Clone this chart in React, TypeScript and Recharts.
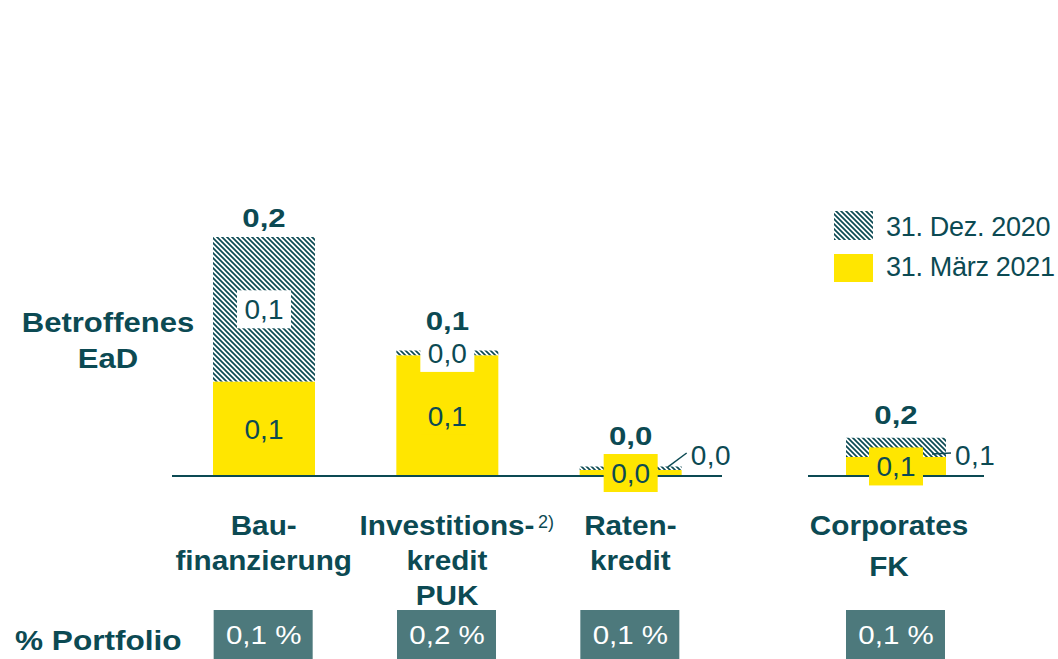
import React from "react";
import { BarChart, Bar, XAxis, YAxis, LabelList } from "recharts";

const TEAL = "#0c4a53";
const YELLOW = "#ffe600";
const BOX = "#4d797c";
const FONT = "Arial, 'Liberation Sans', Helvetica, sans-serif";

// Privatkunden-Gruppe (gemeinsame Achse)
const categories = ["Bau-|finanzierung", "Investitions-|kredit|PUK", "Raten-|kredit"];
const categoryNotes = ["", "2)", ""];
const dez2020 = [0.2, 0.105, 0.008];
const maerz2021 = [0.079, 0.101, 0.005];
const totalLabels = ["0,2", "0,1", "0,0"];
const dezLabels = ["0,1", "0,0", "0,0"];
const dezOutside = [false, false, true];
const maerzLabels = ["0,1", "0,1", "0,0"];
const portfolio = ["0,1 %", "0,2 %", "0,1 %"];

// Corporates (eigene Achse)
const corpCategories = ["Corporates|FK"];
const corpNotes = [""];
const corpDez2020 = [0.032];
const corpMaerz2021 = [0.016];
const corpTotalLabels = ["0,2"];
const corpDezLabels = ["0,1"];
const corpDezOutside = [true];
const corpMaerzLabels = ["0,1"];
const corpPortfolio = ["0,1 %"];

type Row = {
  name: string;
  note: string;
  portfolio: string;
  maerz: number;
  diff: number;
  total: string;
  dezIn: string;
  dezOut: string;
  maerzLabel: string;
};

function buildRows(
  cats: string[],
  notes: string[],
  dez: number[],
  maerz: number[],
  totals: string[],
  dezL: string[],
  outside: boolean[],
  maerzL: string[],
  pf: string[]
): Row[] {
  return cats.map((name, i) => ({
    name,
    note: notes[i],
    portfolio: pf[i],
    maerz: maerz[i],
    diff: dez[i] - maerz[i],
    total: totals[i],
    dezIn: outside[i] ? "" : dezL[i],
    dezOut: outside[i] ? dezL[i] : "",
    maerzLabel: maerzL[i],
  }));
}

const rows = buildRows(categories, categoryNotes, dez2020, maerz2021, totalLabels, dezLabels, dezOutside, maerzLabels, portfolio);
const corpRows = buildRows(corpCategories, corpNotes, corpDez2020, corpMaerz2021, corpTotalLabels, corpDezLabels, corpDezOutside, corpMaerzLabels, corpPortfolio);

// horizontal gestreckter Text wie im Original
const SText = (props: any) => {
  const { x, y, sx = 1, anchor = "middle", size, bold, fill = TEAL, spacing = 0, children } = props;
  return (
    <text
      transform={`translate(${x},${y}) scale(${sx},1)`}
      x={0}
      y={0}
      textAnchor={anchor}
      fill={fill}
      fontFamily={FONT}
      fontWeight={bold ? "bold" : "normal"}
      fontSize={size}
      letterSpacing={spacing}
    >
      {children}
    </text>
  );
};

const CategoryTick = (props: any) => {
  const { x, y, payload, data, lineGap, dx } = props;
  const row: Row | undefined = data.find((r: Row) => r.name === payload.value);
  const lines = String(payload.value).split("|");
  return (
    <g>
      {lines.map((l, i) => (
        <SText key={i} x={x + dx} y={y + 57 + i * lineGap} sx={1.1} size={27} bold>
          {l}
        </SText>
      ))}
      {row && row.note ? (
        <text x={x + 91} y={y + 50} fill={TEAL} fontFamily={FONT} fontSize={18}>
          {row.note}
        </text>
      ) : null}
      {row ? (
        <g>
          <rect x={x - 50} y={y + 132} width={99} height={52} fill={BOX} />
          <SText x={x} y={y + 166} sx={1.18} size={25} fill="#ffffff">
            {row.portfolio}
          </SText>
        </g>
      ) : null}
    </g>
  );
};

const renderTotal = (p: any) => {
  if (!p.value) return null;
  const cx = Number(p.x) + Number(p.width) / 2;
  const top = Number(p.y);
  const mid = top + Number(p.height) / 2;
  return (
    <SText x={cx} y={Math.min(top - 10, mid - 23)} sx={1.2} size={26} bold>
      {p.value}
    </SText>
  );
};

const boxedLabel = (bg: string) => (p: any) => {
  if (!p.value) return null;
  const cx = Number(p.x) + Number(p.width) / 2;
  const cy = Number(p.y) + Number(p.height) / 2;
  return (
    <g>
      <rect x={cx - 27} y={cy - 19} width={54} height={38} fill={bg} />
      <text x={cx} y={cy + 10} textAnchor="middle" fill={TEAL} fontFamily={FONT} fontSize={28}>
        {p.value}
      </text>
    </g>
  );
};

const renderOutside = (p: any) => {
  if (!p.value) return null;
  const right = Number(p.x) + Number(p.width);
  const top = Number(p.y);
  const base = Number(p.y) + Number(p.height);
  return (
    <g>
      <line x1={right - 14} y1={top - 3} x2={right + 5} y2={base - 23} stroke={TEAL} strokeWidth={1.5} />
      <text x={right + 9} y={base - 11} fill={TEAL} fontFamily={FONT} fontSize={28} letterSpacing={0.5}>
        {p.value}
      </text>
    </g>
  );
};

const HatchDefs = ({ id }: { id: string }) => (
  <defs>
    <pattern id={id} patternUnits="userSpaceOnUse" width={5} height={5}>
      <rect width={5} height={5} fill="#ffffff" />
      <path d="M-1,-1 L6,6 M-1,4 L1,6 M4,-1 L6,1" stroke={TEAL} strokeWidth={1.7} />
    </pattern>
  </defs>
);

function EadChart(props: { data: Row[]; width: number; left: number; right: number; barSize: number; lineGap: number; dx: number; hatchId: string }) {
  const { data, width, left, right, barSize, lineGap, dx, hatchId } = props;
  return (
    <BarChart
      width={width}
      height={479}
      data={data}
      margin={{ top: 57, right, bottom: 0, left }}
      barSize={barSize}
      barGap={-barSize}
    >
      <HatchDefs id={hatchId} />
      <YAxis hide domain={[0, 0.2]} />
      <XAxis
        dataKey="name"
        height={183}
        interval={0}
        tickSize={0}
        tickLine={false}
        axisLine={{ stroke: TEAL, strokeWidth: 2 }}
        tick={(t: any) => <CategoryTick {...t} data={data} lineGap={lineGap} dx={dx} />}
      />
      <Bar dataKey="maerz" stackId="s" fill={YELLOW} isAnimationActive={false} />
      <Bar dataKey="diff" stackId="s" fill={`url(#${hatchId})`} isAnimationActive={false} />
      <Bar dataKey="maerz" stackId="o" fill="none" isAnimationActive={false}>
        <LabelList dataKey="maerzLabel" content={boxedLabel(YELLOW)} />
        <LabelList dataKey="dezOut" content={renderOutside} />
      </Bar>
      <Bar dataKey="diff" stackId="o" fill="none" isAnimationActive={false}>
        <LabelList dataKey="dezIn" content={boxedLabel("#ffffff")} />
        <LabelList dataKey="total" content={renderTotal} />
      </Bar>
    </BarChart>
  );
}

export default function App() {
  return (
    <div
      style={{
        position: "absolute",
        left: 0,
        top: 0,
        width: 1058,
        height: 659,
        overflow: "hidden",
        background: "#ffffff",
        fontFamily: FONT,
      }}
    >
      <svg width={1058} height={659} style={{ position: "absolute", left: 0, top: 0 }}>
        <HatchDefs id="hatchLegend" />
        <SText x={108} y={332} sx={1.15} size={27} bold>
          Betroffenes
        </SText>
        <SText x={108} y={368} sx={1.15} size={27} bold>
          EaD
        </SText>
        <SText x={15} y={650} sx={1.17} size={27} bold anchor="start">
          % Portfolio
        </SText>
        <rect x={834} y={211} width={39} height={29} fill="url(#hatchLegend)" />
        <text x={886} y={236} fill={TEAL} fontFamily={FONT} fontSize={27} letterSpacing={-0.3}>
          31. Dez. 2020
        </text>
        <rect x={834} y={254} width={39} height={28} fill={YELLOW} />
        <text x={886} y={276} fill={TEAL} fontFamily={FONT} fontSize={27} letterSpacing={-0.3}>
          31. März 2021
        </text>
      </svg>
      <div style={{ position: "absolute", left: 160, top: 180 }}>
        <EadChart data={rows} width={600} left={12} right={38} barSize={102} lineGap={35} dx={0} hatchId="hatchA" />
      </div>
      <div style={{ position: "absolute", left: 790, top: 180 }}>
        <EadChart data={corpRows} width={268} left={18} right={74} barSize={100} lineGap={41} dx={-7} hatchId="hatchB" />
      </div>
    </div>
  );
}
